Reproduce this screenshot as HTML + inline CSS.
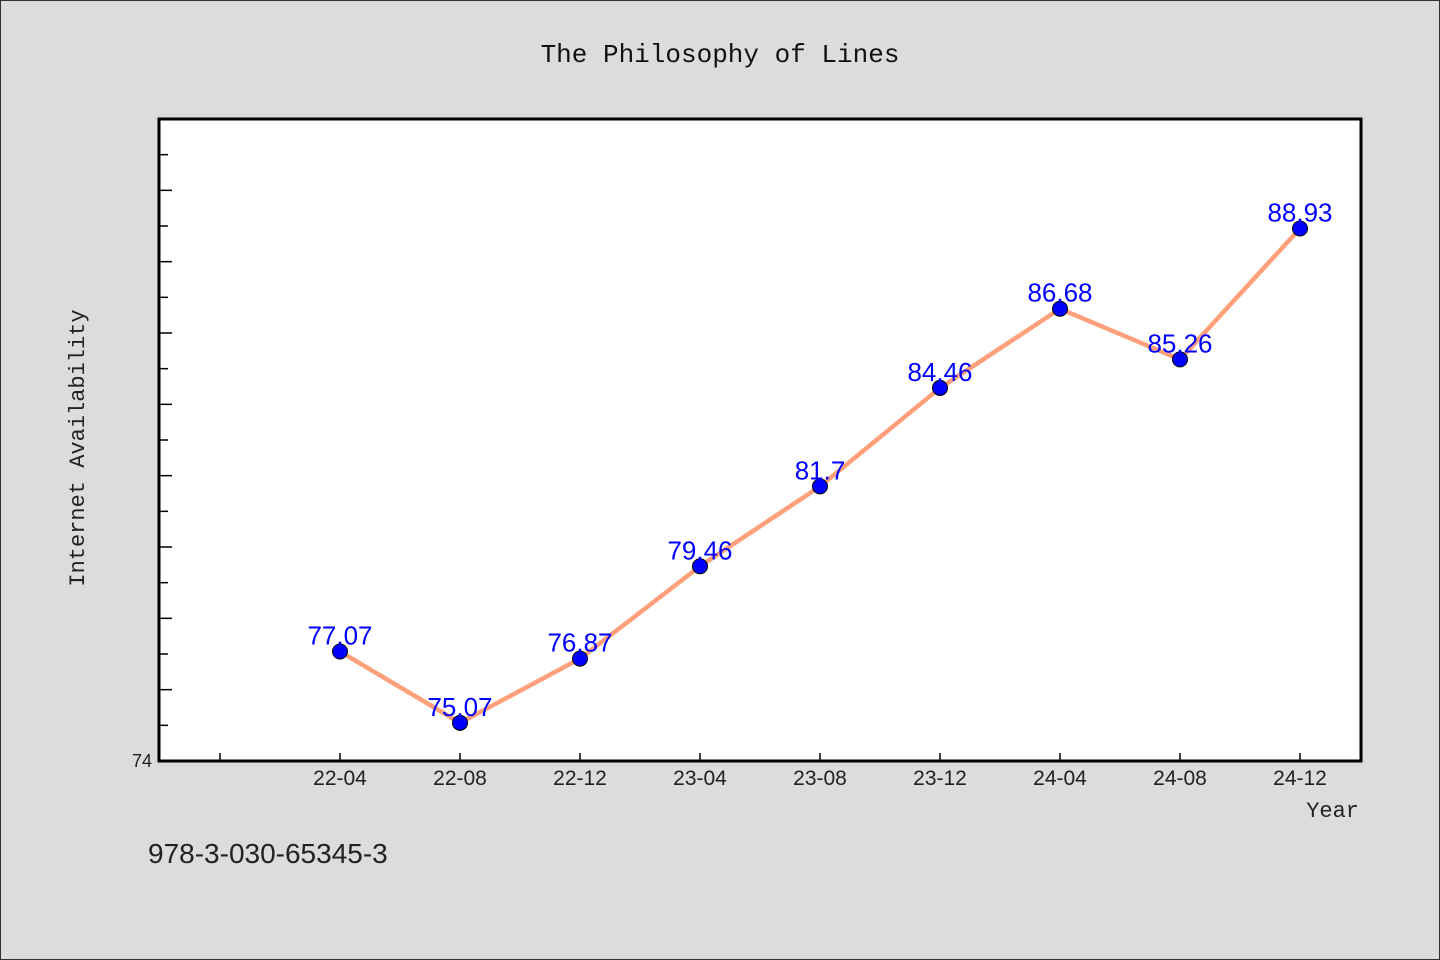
<!DOCTYPE html>
<html><head><meta charset="utf-8"><style>
html,body{margin:0;padding:0;background:#dcdcdc;}
svg{display:block;font-family:"Liberation Sans","WenQuanYi Zen Hei",sans-serif;}
</style></head><body>
<svg id="chart" width="1440" height="960" viewBox="0 0 1440 960">
<rect x="0.5" y="0.5" width="1439" height="959" fill="#dcdcdc" stroke="#333"/>
<text x="720" y="62" text-anchor="middle" font-size="26" fill="#111" font-family="'WenQuanYi Zen Hei','Liberation Mono',monospace">The Philosophy of Lines</text>
<rect x="159" y="119" width="1202" height="642" fill="#fff" stroke="#000" stroke-width="3"/>
<g id="yticks"></g><g id="xticks"></g>
<text x="0" y="0" transform="translate(84,448) rotate(-90)" text-anchor="middle" font-size="22" fill="#222" font-family="'WenQuanYi Zen Hei','Liberation Mono',monospace">Internet Availability</text>
<text x="1359" y="817" text-anchor="end" font-size="22" fill="#222" font-family="'WenQuanYi Zen Hei','Liberation Mono',monospace">Year</text>
<text x="148" y="863" font-size="28" fill="#222" font-family="'WenQuanYi Zen Hei',sans-serif">978-3-030-65345-3</text>
<g id="series"></g>
</svg>
<script>
const categories = ["22-04","22-08","22-12","23-04","23-08","23-12","24-04","24-08","24-12"];
const values = [77.07,75.07,76.87,79.46,81.7,84.46,86.68,85.26,88.93];
const valueLabels = ["77.07","75.07","76.87","79.46","81.7","84.46","86.68","85.26","88.93"];
const yMin = 74, yMax = 92;
const ns = "http://www.w3.org/2000/svg";
const L=159,R=1361,T=119,B=761;
function y(v){return B-(v-yMin)/(yMax-yMin)*(B-T);}
function x(i){return 220+120*(i+1);}
function mk(t,a,p){const e=document.createElementNS(ns,t);for(const k in a)e.setAttribute(k,a[k]);p.appendChild(e);return e;}
const yt=document.getElementById('yticks');
for(let v=yMin+1;v<yMax;v++){
  const ln=mk('line',{x1:L,x2:L+(v%2===0?13:9),y1:y(v),y2:y(v),stroke:'#000','stroke-width':1.5},yt);
  
  
}
const yl=mk('text',{x:152,y:B+6,'text-anchor':'end','font-size':18,fill:'#222'},yt);
yl.textContent=String(yMin);


const xt=document.getElementById('xticks');
for(let i=-1;i<categories.length;i++){
  const ln=mk('line',{x1:x(i),x2:x(i),y1:B,y2:B-8,stroke:'#000','stroke-width':1.5},xt);
  
  
  if(i>=0){
    const t=mk('text',{x:x(i),y:B+24,'text-anchor':'middle','font-size':21,fill:'#222'},xt);
    t.textContent=categories[i];
    
    
  }
}
const s=document.getElementById('series');
const pl=mk('polyline',{points:values.map((v,i)=>x(i)+','+y(v)).join(' '),fill:'none',stroke:'#ffa07a','stroke-width':4.5},s);


values.forEach((v,i)=>{
  const c=mk('circle',{cx:x(i),cy:y(v),r:7.5,fill:'#0000ff',stroke:'#000','stroke-width':1},s);
  
  
});
values.forEach((v,i)=>{
  const t=mk('text',{x:x(i),y:y(v)-7,'text-anchor':'middle','font-size':26,fill:'#0000ff'},s);
  t.textContent=valueLabels[i];
  
  
});
</script>
</body></html>
